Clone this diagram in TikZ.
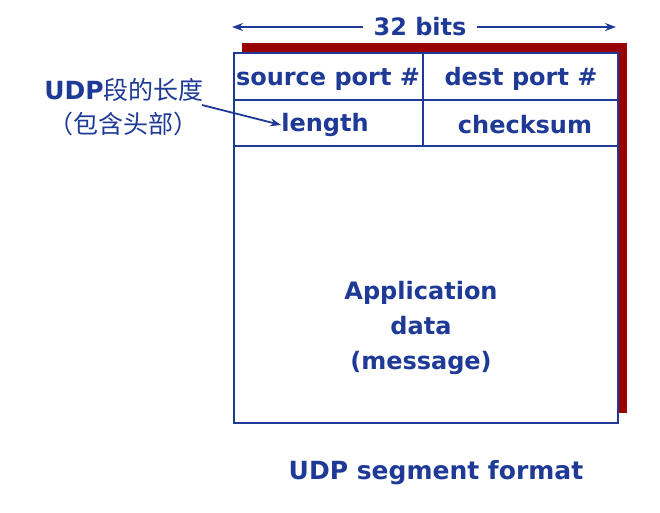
\documentclass[tikz,border=0pt]{standalone}
\usepackage{fontspec}
\setmainfont{DejaVu Sans}
\newfontfamily\cjk{Noto Sans CJK SC}
\usetikzlibrary{arrows.meta}
\definecolor{ublue}{RGB}{30,58,150}
\definecolor{ured}{RGB}{153,0,0}
\tikzset{
  lbl/.style={text=ublue,font=\fontsize{24}{35}\selectfont\bfseries,inner sep=0pt},
  grid/.style={draw=ublue,line width=2pt},
  arr/.style={draw=ublue,line width=1.8pt,-{Stealth[length=11pt,width=8pt]}}
}
\begin{document}
\begin{tikzpicture}[x=1pt,y=-1pt]
\useasboundingbox (0,0) rectangle (660,512);
% shadow
\fill[ured] (242,43) rectangle (627,413);
\fill[white] (234,53) rectangle (618,423);
\draw[grid,line width=2.5pt] (234,53) rectangle (618,423);
\draw[grid] (234,100) -- (618,100);
\draw[grid] (234,146) -- (617,146);
\draw[grid] (423,53) -- (423,146);
% labels
\node[lbl] (src) at (328,79) {source port \#};
\node[lbl] (dst) at (521,79) {dest port \#};
\node[lbl] (len) at (325,125) {length};
\node[lbl] (chk) at (525,125) {checksum};
\node[lbl,align=center] (app) at (421,328) {Application\\data\\(message)};
\node[lbl,font=\fontsize{25}{30}\selectfont\bfseries] (fmt) at (436,473) {UDP segment format};
% 32 bits
\node[lbl] (bits) at (420,27) {32 bits};
\coordinate (bl) at (232,27);
\coordinate (br) at (616,27);
\draw[arr] (bits.west) ++(-10pt,0) -- (bl);
\draw[arr] (bits.east) ++(10pt,0) -- (br);
% annotation
\node[lbl,font=\fontsize{25}{28}\selectfont\bfseries] (udp) at (124,90) {UDP{\cjk\mdseries 段的长度}};
\node[lbl,font=\fontsize{25}{28}\selectfont\cjk] (hdr) at (123,124) {（包含头部）};
\coordinate (as) at (202,105);
\draw[arr] (as) -- (len.west);
\end{tikzpicture}
\end{document}
